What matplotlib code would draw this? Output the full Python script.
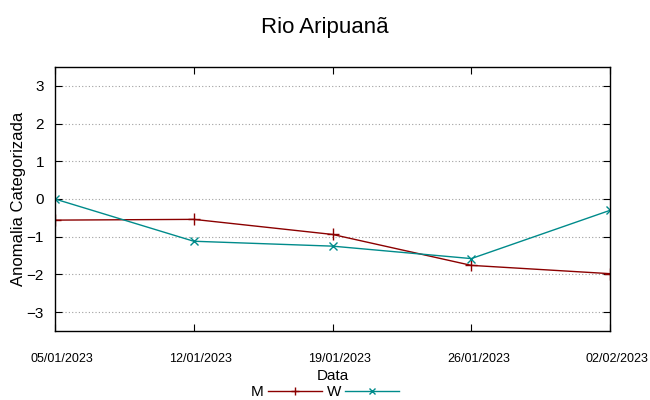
import matplotlib
matplotlib.use('Agg')
import matplotlib.pyplot as plt
import matplotlib.transforms as mtransforms

plt.rcParams['font.family'] = ['Liberation Sans', 'DejaVu Sans']

datas = ['05/01/2023', '12/01/2023', '19/01/2023', '26/01/2023', '02/02/2023']
serie_m = [-0.56, -0.54, -0.94, -1.76, -1.98]
serie_w = [0.0, -1.12, -1.25, -1.58, -0.30]

fig = plt.figure(figsize=(6.5, 4), dpi=100)
ax = fig.add_axes([0.0846, 0.1725, 0.854, 0.66])

x = list(range(len(datas)))
ax.plot(x, serie_m, color='#8b0000', marker='+', markersize=8, linewidth=1, label='M')
ax.plot(x, serie_w, color='#008b8b', marker='x', markersize=6, linewidth=1, label='W')

ax.set_xlim(0, len(datas) - 1)
ax.set_ylim(-3.5, 3.5)
ax.set_xticks(x)
ax.set_xticklabels(datas, fontsize=9)
ax.set_yticks([-3, -2, -1, 0, 1, 2, 3])
ax.tick_params(axis='y', labelsize=11, direction='in', right=True, length=5, pad=8)
ax.tick_params(axis='x', direction='in', top=True, length=5, pad=16)
ax.grid(axis='y', color='#a0a0a0', linestyle=(0, (1, 2)), linewidth=0.8)
for s in ax.spines.values():
    s.set_linewidth(1)

# shift date labels a bit to the right, like the original
shift = mtransforms.ScaledTranslation(7 / 100, 0, fig.dpi_scale_trans)
for lbl in ax.get_xticklabels():
    lbl.set_transform(lbl.get_transform() + shift)

ax.set_ylabel('Anomalia Categorizada', fontsize=12, labelpad=0)
ax.yaxis.set_label_coords(-0.052, 0.5)
ax.set_xlabel('Data', fontsize=11, labelpad=3)
fig.suptitle('Rio Aripuanã', fontsize=16, y=0.957)

fig.legend(loc='lower center', bbox_to_anchor=(0.5, -0.024), ncol=2, frameon=False,
           markerfirst=False, fontsize=11, handlelength=3.5, columnspacing=0.3,
           handletextpad=0.3, borderpad=0.2, markerscale=0.8)

fig.savefig('out.png', dpi=100)
